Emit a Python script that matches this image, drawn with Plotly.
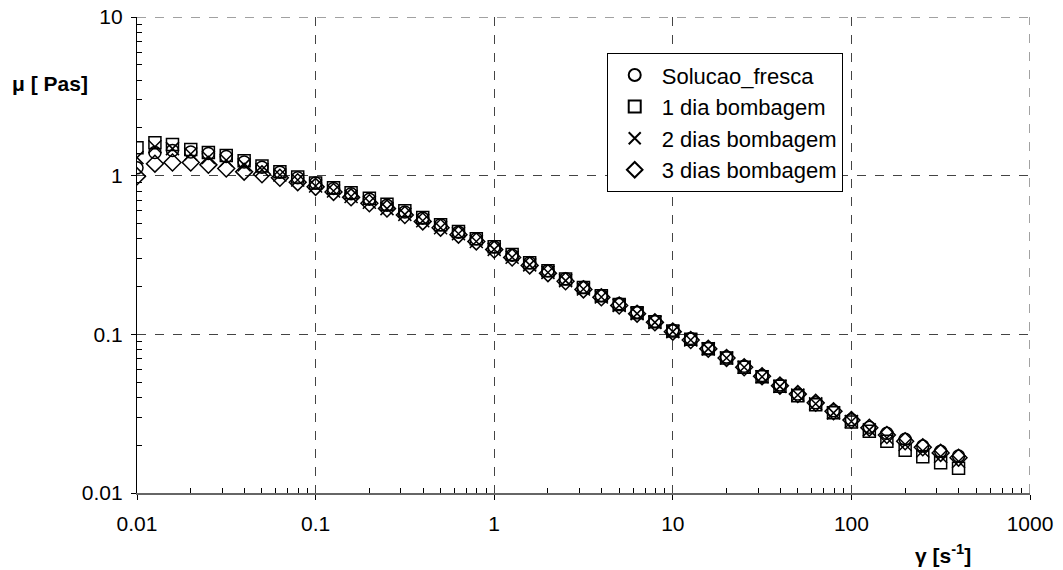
import plotly.graph_objects as go

shear_rate = [0.01, 0.0126, 0.0158, 0.02, 0.0251, 0.0316, 0.0398, 0.0501, 0.0631, 0.0794,
              0.1, 0.126, 0.158, 0.2, 0.251, 0.316, 0.398, 0.501, 0.631, 0.794,
              1, 1.26, 1.58, 2, 2.51, 3.16, 3.98, 5.01, 6.31, 7.94,
              10, 12.6, 15.8, 20, 25.1, 31.6, 39.8, 50.1, 63.1, 79.4,
              100, 126, 158, 200, 251, 316, 398]

solucao_fresca = [1.12, 1.40, 1.44, 1.41, 1.38, 1.32, 1.22, 1.13, 1.05, 0.97,
                  0.90, 0.83, 0.77, 0.71, 0.65, 0.59, 0.54, 0.49, 0.44, 0.40,
                  0.355, 0.315, 0.283, 0.252, 0.224, 0.198, 0.176, 0.156, 0.138, 0.121,
                  0.106, 0.094, 0.082, 0.072, 0.063, 0.055, 0.048, 0.042, 0.037, 0.033,
                  0.029, 0.026, 0.0238, 0.0218, 0.0198, 0.0183, 0.0171]

dia1 = [1.50, 1.61, 1.57, 1.46, 1.40, 1.34, 1.24, 1.15, 1.06, 0.98,
        0.90, 0.84, 0.78, 0.72, 0.66, 0.60, 0.545, 0.49, 0.445, 0.40,
        0.357, 0.318, 0.283, 0.252, 0.223, 0.197, 0.175, 0.154, 0.137, 0.120,
        0.105, 0.093, 0.081, 0.071, 0.062, 0.054, 0.047, 0.041, 0.036, 0.032,
        0.028, 0.0245, 0.0212, 0.0186, 0.0169, 0.0155, 0.0143]

dias2 = [1.30, 1.52, 1.48, 1.37, 1.30, 1.25, 1.17, 1.09, 1.01, 0.94,
         0.86, 0.80, 0.74, 0.68, 0.62, 0.57, 0.52, 0.47, 0.43, 0.385,
         0.343, 0.306, 0.274, 0.245, 0.218, 0.193, 0.172, 0.152, 0.135, 0.119,
         0.104, 0.092, 0.081, 0.071, 0.062, 0.054, 0.047, 0.0415, 0.0365, 0.032,
         0.0282, 0.025, 0.0222, 0.0202, 0.0184, 0.0170, 0.0158]

dias3 = [0.99, 1.19, 1.21, 1.21, 1.17, 1.11, 1.06, 1.02, 0.97, 0.91,
         0.85, 0.79, 0.73, 0.67, 0.62, 0.565, 0.515, 0.47, 0.425, 0.385,
         0.342, 0.305, 0.272, 0.243, 0.216, 0.192, 0.171, 0.152, 0.135, 0.119,
         0.104, 0.092, 0.081, 0.071, 0.062, 0.0545, 0.0475, 0.042, 0.037, 0.0328,
         0.0288, 0.0258, 0.0232, 0.0212, 0.0194, 0.0179, 0.0167]

series_names = ["Solucao_fresca", "1 dia bombagem", "2 dias bombagem", "3 dias bombagem"]
series_values = [solucao_fresca, dia1, dias2, dias3]
symbols = ["circle-open", "square-open", "x-thin-open", "diamond-open"]
sizes = [12, 12, 13, 13]

x_ticks = [0.01, 0.1, 1, 10, 100, 1000]
x_ticklabels = ["0.01", "0.1", "1", "10", "100", "1000"]
y_ticks = [0.01, 0.1, 1, 10]
y_ticklabels = ["0.01", "0.1", "1", "10"]


def minor_vals(decades):
    return [d * m for d in decades[:-1] for m in range(2, 10)]


FONT = "Liberation Sans, Arial, sans-serif"

fig = go.Figure()
for name, vals, sym, sz in zip(series_names, series_values, symbols, sizes):
    fig.add_trace(go.Scatter(
        x=shear_rate, y=vals, mode="markers", name=name,
        legendgroup=name,
        marker=dict(symbol=sym, size=sz, color="black",
                    line=dict(color="black", width=1.5)),
    ))

axis_common = dict(
    type="log",
    automargin=False,
    showgrid=True, gridcolor="#444444", griddash="dash", gridwidth=1,
    zeroline=False,
    ticks="outside", ticklen=5, tickcolor="black",
    tickfont=dict(family=FONT, size=21, color="black"),
)

fig.update_xaxes(range=[-2, 3], tickvals=x_ticks, ticktext=x_ticklabels,
                 showline=True, linecolor="#666666", linewidth=1.5,
                 ticklabelstandoff=6,
                 minor=dict(tickmode="array", tickvals=minor_vals(x_ticks),
                            ticks="inside", ticklen=5, tickcolor="black", showgrid=False),
                 **axis_common)
fig.update_yaxes(range=[-2, 1], tickvals=y_ticks, ticktext=y_ticklabels,
                 showline=True, linecolor="black", linewidth=1.2,
                 ticklabelstandoff=4,
                 minor=dict(tickmode="array", tickvals=minor_vals(y_ticks),
                            ticks="inside", ticklen=5, tickcolor="black", showgrid=False),
                 **axis_common)

# dashed grid lines at the upper/right range ends (plotly omits them at the edges)
fig.add_hline(y=y_ticks[-1], line=dict(color="#444444", width=1, dash="dash"))
fig.add_vline(x=x_ticks[-1], line=dict(color="#444444", width=1, dash="dash"))

fig.add_annotation(text="<b>μ [ Pas]</b>", xref="paper", yref="paper",
                   x=-0.142, y=0.861, xanchor="left", yanchor="middle",
                   showarrow=False, font=dict(family=FONT, size=21, color="black"))
fig.add_annotation(text="<b>γ [s<sup>-1</sup>]</b>", xref="paper", yref="paper",
                   x=0.9026, y=-0.128, xanchor="center", yanchor="middle",
                   showarrow=False, font=dict(family=FONT, size=21, color="black"))

fig.update_layout(
    width=1063, height=570,
    margin=dict(l=137, r=33, t=17, b=77),
    paper_bgcolor="white", plot_bgcolor="white",
    font=dict(family=FONT, size=16, color="black"),
    legend=dict(x=0.526, y=0.924, xanchor="left", yanchor="top",
                bgcolor="white", bordercolor="black", borderwidth=1,
                font=dict(family=FONT, size=22, color="black"),
                tracegroupgap=0, itemsizing="constant", itemwidth=44),
    showlegend=True,
)

fig.write_html("out.html", config={"displayModeBar": False},
               post_script="document.body.style.margin='0px';document.body.style.padding='0px';")
